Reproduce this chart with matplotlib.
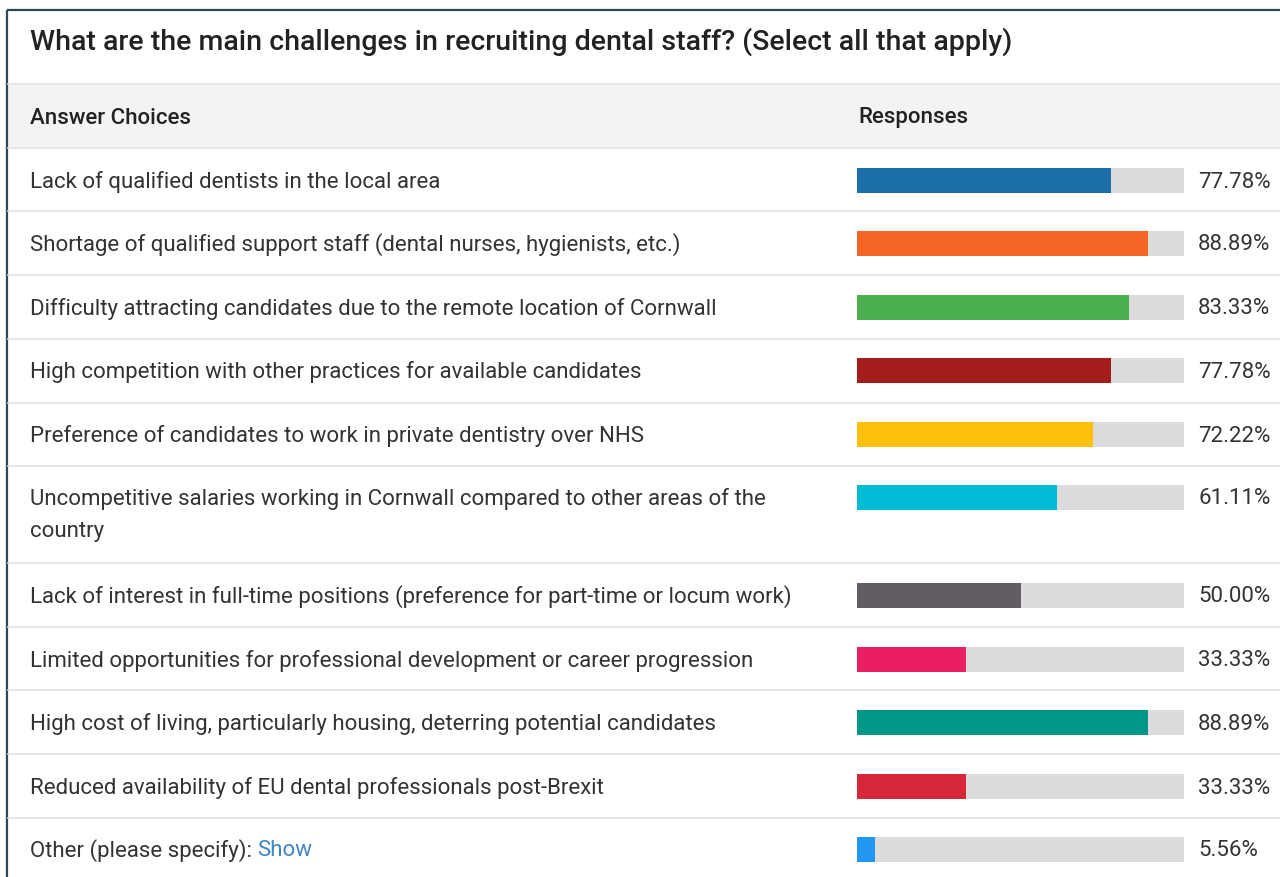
import matplotlib
matplotlib.use("Agg")
import matplotlib.pyplot as plt
import matplotlib.transforms as mtransforms
from matplotlib.patches import Rectangle

plt.rcParams['font.family'] = ['Roboto', 'DejaVu Sans']

title = "What are the main challenges in recruiting dental staff? (Select all that apply)"
choices = [
    "Lack of qualified dentists in the local area",
    "Shortage of qualified support staff (dental nurses, hygienists, etc.)",
    "Difficulty attracting candidates due to the remote location of Cornwall",
    "High competition with other practices for available candidates",
    "Preference of candidates to work in private dentistry over NHS",
    "Uncompetitive salaries working in Cornwall compared to other areas of the\ncountry",
    "Lack of interest in full-time positions (preference for part-time or locum work)",
    "Limited opportunities for professional development or career progression",
    "High cost of living, particularly housing, deterring potential candidates",
    "Reduced availability of EU dental professionals post-Brexit",
    "Other (please specify):",
]
responses = [77.78, 88.89, 83.33, 77.78, 72.22, 61.11, 50.00, 33.33, 88.89, 33.33, 5.56]
colors = ["#1a6fa8", "#f26522", "#4caf50", "#a51c1e", "#fdc10a", "#00bcd4",
          "#625c63", "#e91e63", "#009688", "#d62839", "#2196f3"]

W, H = 1280, 877
FS = 16
DY = 2  # small downward nudge so text sits centred on each row
fig = plt.figure(figsize=(W / 100, H / 100), dpi=100)
fig.patch.set_facecolor("white")

# layout axes in pixel units
ax = fig.add_axes([0, 0, 1, 1])
ax.set_xlim(0, W)
ax.set_ylim(H, 0)
ax.axis("off")

text_color = "#333333"
line_color = "#e2e2e2"

# outer frame (left and top edges)
ax.plot([7, 7], [10, H], color="#2f4858", lw=1.6, solid_capstyle="butt")
ax.plot([7, W], [10, 10], color="#2f4858", lw=1.6, solid_capstyle="butt")

ax.text(30, 40 + DY, title, fontsize=20.5, fontweight="medium", color="#222222",
        va="center", ha="left")

# header band
ax.add_patch(Rectangle((8, 84), W - 8, 64, facecolor="#f3f3f3", edgecolor="none"))
ax.plot([8, W], [84, 84], color=line_color, lw=1.2)
ax.plot([8, W], [148, 148], color=line_color, lw=1.2)
ax.text(30, 116 + DY, "Answer Choices", fontsize=FS, fontweight="medium",
        color="#222222", va="center")
ax.text(858, 116 + DY, "Responses", fontsize=FS, fontweight="medium",
        color="#222222", va="center")

# row geometry
row_tops = [148, 211, 275, 339, 403, 466, 563, 627, 690, 754, 818]
bar_centers = [180, 243, 307, 370, 434, 497, 595, 659, 722, 786, 849]

last_text = None
for i, (label, c_y) in enumerate(zip(choices, bar_centers)):
    if i > 0:
        ax.plot([8, W], [row_tops[i], row_tops[i]], color=line_color, lw=1.2)
    for k, part in enumerate(label.split("\n")):
        last_text = ax.text(30, c_y + 33 * k + DY, part, fontsize=FS,
                            color=text_color, va="center")

# "Show" link after the last label
fig.canvas.draw()
bb = last_text.get_window_extent(renderer=fig.canvas.get_renderer())
ax.text(bb.x1 + 5, bar_centers[-1] + DY, "Show", fontsize=FS, color="#3d85c6",
        va="center",
        transform=mtransforms.blended_transform_factory(
            mtransforms.IdentityTransform(), ax.transData))

# bar axes: x in percent, y in pixel rows
x0, x1 = 857, 1184
bax = fig.add_axes([x0 / W, 0, (x1 - x0) / W, 1])
bax.set_xlim(0, 100)
bax.set_ylim(H, 0)
bax.axis("off")
bax.patch.set_alpha(0)

bax.barh(bar_centers, [100] * len(responses), height=25, color="#dcdcdc", linewidth=0)
bax.barh(bar_centers, responses, height=25, color=colors, linewidth=0)
for v, c_y in zip(responses, bar_centers):
    bax.text(104.3, c_y + DY, f"{v:.2f}%", fontsize=FS, color=text_color,
             va="center", ha="left", clip_on=False)

fig.savefig("out.png", dpi=100, facecolor="white")
